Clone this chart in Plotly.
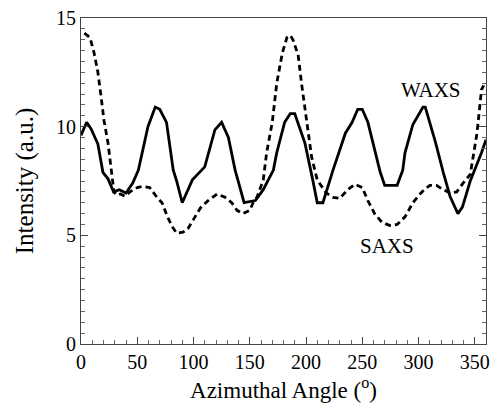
import plotly.graph_objects as go

# WAXS (solid)
waxs_angle = [0, 5, 9, 15, 19.5, 24, 29, 34, 40, 46, 51, 59.5, 66, 70, 76, 82, 85, 90,
              99, 110, 119, 125, 131, 137, 145, 155, 162, 171, 174, 181, 186, 190, 195,
              199, 206, 210, 215, 224, 235, 241, 246, 250, 255, 266, 270, 281, 286, 288,
              295, 304, 306, 315, 322, 328, 335, 339, 346, 350, 356, 360]
waxs_int = [9.6, 10.2, 9.9, 9.2, 7.9, 7.6, 7.0, 7.1, 6.95, 7.4, 8.0, 10.0, 10.9, 10.8, 10.2,
            8.0, 7.5, 6.5, 7.55, 8.15, 9.85, 10.2, 9.5, 8.0, 6.5, 6.6, 7.1, 8.0, 8.8, 10.2,
            10.6, 10.6, 9.85, 9.25, 7.55, 6.5, 6.5, 8.0, 9.7, 10.2, 10.8, 10.8, 10.2, 7.9,
            7.3, 7.3, 8.0, 8.8, 10.1, 10.9, 10.9, 9.3, 7.9, 6.8, 6.0, 6.3, 7.5, 8.0, 8.8, 9.4]

# SAXS (dashed)
saxs_angle = [3, 8, 11.6, 15, 17.8, 20.4, 24, 26.7, 29.3, 32, 35, 39, 43.5, 50, 55, 61, 67.5,
              72, 76.5, 81, 85, 90.7, 95, 99.6, 106, 113, 121, 128, 134, 138.7, 144, 150,
              153, 156.4, 159, 162, 165, 170, 174, 179, 183, 186, 188.4, 193, 196, 201, 205,
              210, 218, 224, 230, 237, 243.5, 250, 255, 261, 267.5, 274.7, 281, 288, 295,
              303, 310, 316, 322, 328, 334, 339.6, 346, 352, 356, 358]
saxs_int = [14.3, 14.1, 13.4, 12.5, 11.4, 10.3, 9.25, 8.15, 7.0, 6.85, 6.9, 6.8, 7.0, 7.2,
            7.25, 7.2, 6.75, 6.5, 5.9, 5.4, 5.1, 5.15, 5.3, 5.7, 6.25, 6.6, 6.9, 6.75, 6.5,
            6.15, 6.0, 6.15, 6.5, 6.75, 7.1, 7.55, 8.8, 10.2, 12.0, 13.4, 14.1, 14.2, 14.0,
            13.3, 12.0, 10.2, 8.6, 7.55, 6.95, 6.75, 6.7, 7.1, 7.35, 7.2, 6.6, 6.0, 5.6,
            5.45, 5.5, 5.85, 6.5, 7.0, 7.3, 7.3, 7.1, 6.95, 7.0, 7.4, 7.8, 9.7, 11.7, 11.9]

x_ticks = [0, 50, 100, 150, 200, 250, 300, 350]
y_ticks = [0, 5, 10, 15]

labels = ["WAXS", "SAXS"]
label_pos_x = [311, 272]
label_pos_y = [11.7, 4.5]

font_family = "Liberation Serif"

fig = go.Figure()
fig.add_trace(go.Scatter(x=waxs_angle, y=waxs_int, mode="lines",
                         line=dict(color="black", width=2.8), name="WAXS",
                         showlegend=False))
fig.add_trace(go.Scatter(x=saxs_angle, y=saxs_int, mode="lines",
                         line=dict(color="black", width=2.8, dash="6px,4px"),
                         name="SAXS", showlegend=False))

for t, ax, ay in zip(labels, label_pos_x, label_pos_y):
    fig.add_annotation(x=ax, y=ay, xref="x", yref="y", text=t, showarrow=False,
                       font=dict(family=font_family, size=21, color="black"))

fig.update_layout(
    width=492, height=406,
    margin=dict(l=81, r=6, t=18, b=62, autoexpand=False),
    paper_bgcolor="white", plot_bgcolor="white",
    font=dict(family=font_family, color="black"),
    xaxis=dict(
        range=[0, 360], tickvals=x_ticks, ticks="inside", ticklen=7,
        tickcolor="#444", showline=True, linecolor="#444", linewidth=1,
        mirror=True, showgrid=False, zeroline=False, automargin=False,
        tickfont=dict(family=font_family, size=20, color="black"),
        minor=dict(dtick=10, ticks="inside", ticklen=4, tickcolor="#666"),
        title=dict(text="Azimuthal Angle (<sup>o</sup>)",
                   font=dict(family=font_family, size=23, color="black"),
                   standoff=9),
    ),
    yaxis=dict(
        range=[0, 15], tickvals=y_ticks, ticks="inside", ticklen=7,
        tickcolor="#444", showline=True, linecolor="#444", linewidth=1,
        mirror="allticks", showgrid=False, zeroline=False, automargin=False,
        tickfont=dict(family=font_family, size=20, color="black"),
        minor=dict(dtick=0.5, ticks="inside", ticklen=4, tickcolor="#666"),
        title=dict(text="Intensity (a.u.)",
                   font=dict(family=font_family, size=25, color="black"),
                   standoff=15),
    ),
)

fig.write_html("out.html",
               config={"displayModeBar": False},
               post_script="document.body.style.margin='0';document.body.style.padding='0';")
